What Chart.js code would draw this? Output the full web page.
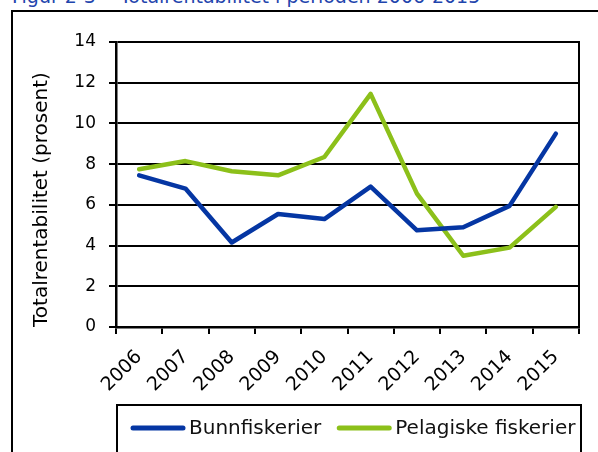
<!DOCTYPE html>
<html>
<head>
<meta charset="utf-8">
<script src="https://cdn.jsdelivr.net/npm/chart.js@4.4.1/dist/chart.umd.min.js"></script>
<style>
  html, body { margin: 0; padding: 0; width: 598px; height: 452px; overflow: hidden; background: #fff; }
  #figTitle {
    position: absolute; left: 12px; top: -13px;
    font: 19px "DejaVu Sans", Verdana, sans-serif; line-height: 19px;
    color: #1f45ad; white-space: nowrap;
  }
  #frame {
    position: absolute; left: 11px; top: 10px; width: 700px; height: 600px;
    border-left: 2px solid #000; border-top: 2px solid #000;
  }
  #chart { position: absolute; left: 0; top: 0; }
</style>
</head>
<body>
<div id="figTitle">Figur 2-3&nbsp;&nbsp;&nbsp;&nbsp;Totalrentabilitet i perioden 2006-2015</div>
<div id="frame"></div>
<canvas id="chart" width="598" height="452"></canvas>
<script>
// data
const years = ["2006", "2007", "2008", "2009", "2010", "2011", "2012", "2013", "2014", "2015"];
const bunnfiskerier = [7.45, 6.8, 4.15, 5.55, 5.3, 6.9, 4.75, 4.9, 5.95, 9.5];
const pelagiske = [7.75, 8.15, 7.65, 7.45, 8.35, 11.45, 6.55, 3.5, 3.9, 5.9];
const yTicks = [0, 2, 4, 6, 8, 10, 12, 14];

const BLUE = "#0536a3";
const GREEN = "#8cc01a";
const FONT = "'DejaVu Sans', Verdana, sans-serif";

// right edge of the plot area + boxed legend under the axis
const framePlugin = {
  id: "framePlugin",
  afterDraw(chart) {
    const { ctx, chartArea } = chart;
    ctx.save();
    ctx.strokeStyle = "#000";
    ctx.lineWidth = 2;
    ctx.beginPath();
    ctx.moveTo(chartArea.right, chartArea.top - 1);
    ctx.lineTo(chartArea.right, chartArea.bottom);
    ctx.stroke();

    // legend box
    const boxTop = chartArea.bottom + 78;
    ctx.strokeRect(chartArea.left + 1, boxTop, chartArea.right - chartArea.left + 1, 80);

    ctx.font = "20px " + FONT;
    ctx.textBaseline = "middle";
    let x = chartArea.left + 15;
    const y = boxTop + 23;
    chart.data.datasets.forEach((ds) => {
      ctx.strokeStyle = ds.borderColor;
      ctx.lineWidth = 5;
      ctx.lineCap = "round";
      ctx.beginPath();
      ctx.moveTo(x + 2, y);
      ctx.lineTo(x + 52, y);
      ctx.stroke();
      ctx.fillStyle = "#111";
      ctx.fillText(ds.label, x + 58, y + 1);
      x += 58 + ctx.measureText(ds.label).width + 16;
    });
    ctx.restore();
  }
};

new Chart(document.getElementById("chart"), {
  type: "line",
  data: {
    labels: years,
    datasets: [
      {
        label: "Bunnfiskerier",
        data: bunnfiskerier,
        borderColor: BLUE,
        backgroundColor: BLUE,
        borderWidth: 4.5,
        pointRadius: 0,
        tension: 0,
        borderJoinStyle: "round",
        borderCapStyle: "round"
      },
      {
        label: "Pelagiske fiskerier",
        data: pelagiske,
        borderColor: GREEN,
        backgroundColor: GREEN,
        borderWidth: 4.5,
        pointRadius: 0,
        tension: 0,
        borderJoinStyle: "round",
        borderCapStyle: "round"
      }
    ]
  },
  options: {
    responsive: false,
    animation: false,
    layout: { padding: { left: 0, top: 42, right: 19, bottom: 0 } },
    plugins: {
      legend: { display: false },
      tooltip: { enabled: false }
    },
    scales: {
      x: {
        offset: true,
        grid: { offset: true, drawOnChartArea: false, drawTicks: true, tickLength: 7, color: "#000", lineWidth: 2 },
        border: { display: true, color: "#000", width: 2.5 },
        ticks: {
          autoSkip: false, maxRotation: 45, minRotation: 45, padding: 12,
          color: "#000", font: { family: FONT, size: 19 }
        },
        afterFit(scale) { scale.height = 125; }
      },
      y: {
        min: 0,
        max: 14,
        afterBuildTicks(scale) { scale.ticks = yTicks.map((v) => ({ value: v })); },
        grid: { color: "#000", lineWidth: 2, drawTicks: true, tickLength: 7 },
        border: { display: true, color: "#000", width: 2.5 },
        ticks: { padding: 13, color: "#000", font: { family: FONT, size: 17 } },
        title: {
          display: true,
          text: "Totalrentabilitet (prosent)",
          align: "start",
          color: "#000",
          font: { family: FONT, size: 20 },
          padding: { top: 30, bottom: 0 }
        },
        afterFit(scale) { scale.width = 116; }
      }
    }
  },
  plugins: [framePlugin]
});
</script>
</body>
</html>
